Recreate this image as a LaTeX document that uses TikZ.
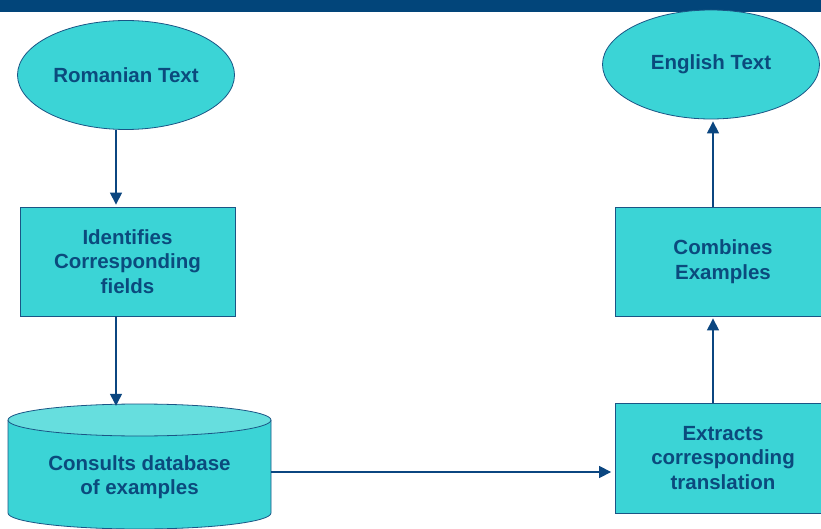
\documentclass[tikz,border=0pt]{standalone}
\usepackage{fontspec}
\setmainfont{Liberation Sans}
\usetikzlibrary{shapes.geometric,arrows.meta}
\definecolor{barblue}{HTML}{02457A}
\definecolor{turq}{HTML}{3BD4D6}
\definecolor{turqlight}{HTML}{66DEDE}
\definecolor{edge}{HTML}{1A5585}
\definecolor{txt}{HTML}{0B4A7D}
\definecolor{arr}{HTML}{0B4680}
\tikzset{
  lbl/.style={font=\fontsize{20.5}{24.5}\selectfont\bfseries, text=txt, align=center, inner sep=0pt},
  oval/.style={lbl, ellipse, draw=edge, fill=turq, line width=0.8pt, minimum width=217pt, minimum height=109pt},
  boxnode/.style={lbl, rectangle, draw=edge, fill=turq, line width=0.8pt, minimum width=215pt, minimum height=109pt},
  flow/.style={draw=arr, line width=1.2pt, -{Triangle[width=12pt,length=12pt]}, shorten >=2pt}
}
\begin{document}
\begin{tikzpicture}[x=1pt,y=1pt]
\useasboundingbox (0,0) rectangle (821,-529);
\clip (0,0) rectangle (821,-529);
\fill[white] (0,0) rectangle (821,-529);
% top bar
\fill[barblue] (0,0) rectangle (821,-12);
% ellipses
\node[oval] (rom) at (126,-75) {Romanian Text};
\node[oval] (eng) at (711,-64.5) {English Text};
% boxes
\node[boxnode] (ident) at (127.5,-261.5) {Identifies\\Corresponding\\fields};
\node[boxnode] (comb) at (723,-261.5) {Combines\\Examples};
\node[boxnode, minimum height=110pt] (ext) at (723,-458) {Extracts\\corresponding\\translation};
% cylinder
\fill[turq] (8,-420) -- (8,-513) arc[start angle=180,end angle=360,x radius=131.5,y radius=16] -- (271,-420) -- cycle;
\draw[edge, line width=0.8pt] (8,-420) -- (8,-513) arc[start angle=180,end angle=360,x radius=131.5,y radius=16] -- (271,-420);
\filldraw[fill=turqlight, draw=edge, line width=0.8pt] (139.5,-420) ellipse[x radius=131.5, y radius=16];
\node[lbl, minimum width=263pt, minimum height=110pt] (db) at (139.5,-477) {Consults database\\of examples};
% connectors
\draw[flow] ([xshift=-10pt]rom.south) -- ([xshift=-11.5pt]ident.north);
\draw[flow] ([xshift=-11.5pt]ident.south) -- ([xshift=-23.5pt,yshift=14pt]db.north);
\draw[flow, shorten >=4pt] ([yshift=5pt]db.east) -- ([yshift=5pt]db.east -| ext.west);
\draw[flow] ([xshift=-10pt]ext.north) -- ([xshift=-10pt]comb.south);
\draw[flow] ([xshift=-10pt]comb.north) -- ([xshift=2pt]eng.south);
\end{tikzpicture}
\end{document}
